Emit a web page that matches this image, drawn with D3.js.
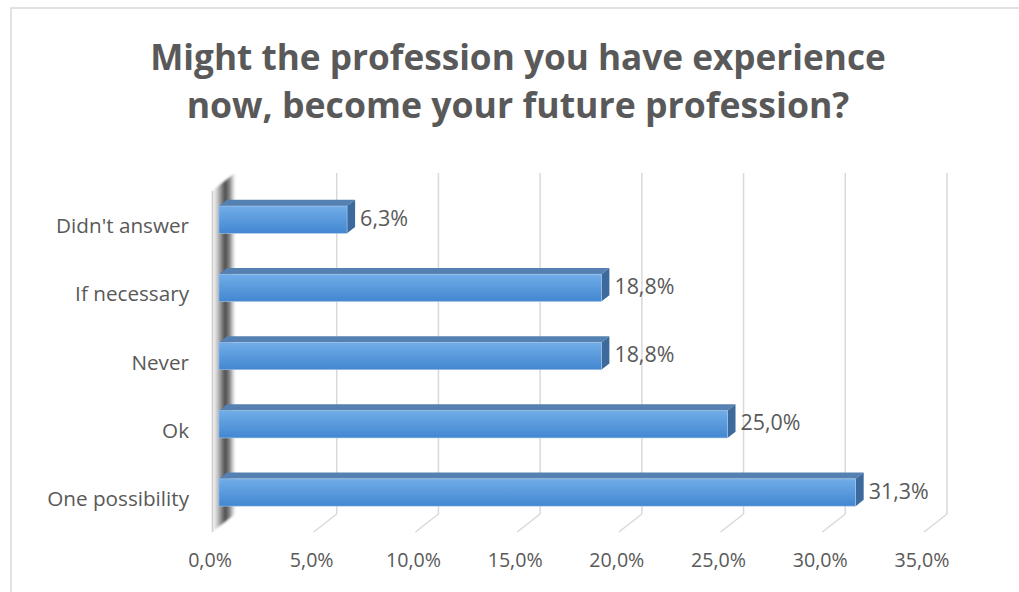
<!DOCTYPE html>
<html>
<head>
<meta charset="utf-8">
<script src="https://cdn.jsdelivr.net/npm/d3@7"></script>
<style>
  html, body { margin: 0; padding: 0; background: #ffffff; }
  svg { display: block; }
  text { font-family: "Open Sans", "Noto Sans", sans-serif; fill: #595959; }
</style>
</head>
<body>
<svg id="chart" width="1019" height="592"></svg>
<script>
// Survey answers (share of respondents, %)
const categories = ["Didn't answer", "If necessary", "Never", "Ok", "One possibility"];
const values = [6.3, 18.8, 18.8, 25.0, 31.3];
const valueLabels = ["6,3%", "18,8%", "18,8%", "25,0%", "31,3%"];
const ticks = [0, 5, 10, 15, 20, 25, 30, 35];
const tickLabels = ["0,0%", "5,0%", "10,0%", "15,0%", "20,0%", "25,0%", "30,0%", "35,0%"];
const titleLines = ["Might the profession you have experience", "now, become your future profession?"];

const svg = d3.select("#chart");
const defs = svg.append("defs");

// Back plane of the 3-D plot box and the depth vector towards the viewer
const back = { left: 235, right: 947, top: 173, bottom: 514 };
const depth = { dx: -23, dy: 18 };
const barFront = 0.7, barBack = 0.35;   // bar faces, as fractions of the depth

const x = d3.scaleLinear().domain([0, 35]).range([back.left, back.right]);
const y = d3.scaleBand().domain(categories).range([back.top, back.bottom])
  .paddingInner(0.6).paddingOuter(0.3);

// Fit a text element's font size to a given width
function fit(sel, width) {
  sel.each(function () {
    const w = this.getComputedTextLength();
    const fs = parseFloat(d3.select(this).attr("font-size"));
    d3.select(this).attr("font-size", fs * width / w);
  });
}

// Outer chart frame
svg.append("rect").attr("x", 11).attr("y", 8).attr("width", 1100).attr("height", 700)
  .attr("fill", "#ffffff").attr("stroke", "#d9d9d9").attr("stroke-width", 1.5);

// Title
const title = svg.append("g");
titleLines.forEach((line, i) => {
  const t = title.append("text").attr("x", 518).attr("y", 70 + i * 48)
    .attr("text-anchor", "middle").attr("font-weight", "bold").attr("font-size", 30)
    .text(line);
  fit(t, i === 0 ? 736 : 663);
});

// Gridlines on the back plane and their floor continuation
const grid = svg.append("g").attr("stroke", "#d9d9d9").attr("stroke-width", 1.5).attr("fill", "none");
grid.selectAll("line.back").data(ticks.filter(t => t > 0)).join("line")
  .attr("class", "back")
  .attr("x1", d => x(d)).attr("x2", d => x(d))
  .attr("y1", back.top).attr("y2", back.bottom);
grid.selectAll("line.floor").data(ticks.filter(t => t > 0)).join("line")
  .attr("class", "floor")
  .attr("x1", d => x(d)).attr("y1", back.bottom)
  .attr("x2", d => x(d) + depth.dx).attr("y2", back.bottom + depth.dy);

// Side wall (value axis at zero)
const wallGrad = defs.append("linearGradient").attr("id", "wall")
  .attr("x1", 0).attr("x2", 1).attr("y1", 0).attr("y2", 0);
[[0, "#f4f4f4"], [0.14, "#e4e4e4"], [0.32, "#a8a8a8"], [0.58, "#4a4a4a"], [0.8, "#949494"], [0.92, "#dcdcdc"], [1, "#f2f2f2"]]
  .forEach(([o, c]) => wallGrad.append("stop").attr("offset", o).attr("stop-color", c));
defs.append("filter").attr("id", "soft").append("feGaussianBlur").attr("stdDeviation", 0.8);
const x0 = x(0);
svg.append("path")
  .attr("d", `M${x0},${back.top} L${x0},${back.bottom} L${x0 + depth.dx},${back.bottom + depth.dy} L${x0 + depth.dx},${back.top + depth.dy} Z`)
  .attr("fill", "url(#wall)").attr("filter", "url(#soft)");
svg.append("line")
  .attr("x1", x0 + depth.dx + 0.5).attr("x2", x0 + depth.dx + 0.5)
  .attr("y1", back.top + depth.dy).attr("y2", back.bottom + depth.dy)
  .attr("stroke", "#d0d0d0").attr("stroke-width", 1.5);

// Bars: front face, top face and right side
const faceGrad = defs.append("linearGradient").attr("id", "face")
  .attr("x1", 0).attr("x2", 0).attr("y1", 0).attr("y2", 1);
faceGrad.append("stop").attr("offset", 0).attr("stop-color", "#71ade8");
faceGrad.append("stop").attr("offset", 1).attr("stop-color", "#4287d1");

const fx = depth.dx * barFront, fy = depth.dy * barFront;   // front face shift
const bx = depth.dx * barBack, by = depth.dy * barBack;     // back face shift
const ox = bx - fx, oy = by - fy;                           // front -> back

const bars = svg.append("g").selectAll("g").data(categories).join("g");
bars.each(function (c, i) {
  const g = d3.select(this);
  const xl = x(0) + fx, xr = x(values[i]) + fx;
  const yt = y(c) + fy, yb = y(c) + y.bandwidth() + fy;
  // top face
  g.append("path")
    .attr("d", `M${xl},${yt} L${xl + ox},${yt + oy} L${xr + ox},${yt + oy} L${xr},${yt} Z`)
    .attr("fill", "#5580b2");
  // right side
  g.append("path")
    .attr("d", `M${xr},${yt} L${xr + ox},${yt + oy} L${xr + ox},${yb + oy} L${xr},${yb} Z`)
    .attr("fill", "#3d6a9d");
  // front face
  g.append("rect").attr("x", xl).attr("y", yt).attr("width", xr - xl).attr("height", yb - yt)
    .attr("fill", "url(#face)").attr("stroke", "#a9c8ea").attr("stroke-width", 0.6);
  // value label
  const lbl = g.append("text").attr("x", xr + ox + 5).attr("y", (yt + yb) / 2 + 6)
    .attr("font-size", 17).text(valueLabels[i]);
  fit(lbl, valueLabels[i].length === 4 ? 48 : 60);
});

// Category labels along the front edge of the wall
const catG = svg.append("g");
categories.forEach((c, i) => {
  catG.append("text").attr("x", 189)
    .attr("y", y(c) - y.step() * 0.3 + y.step() / 2 + depth.dy + 8)
    .attr("text-anchor", "end").attr("font-size", 16).text(c);
});
fit(catG.select("text"), 133);
const catFs = catG.select("text").attr("font-size");
catG.selectAll("text").attr("font-size", catFs);

// Value axis labels along the front floor edge
const tickG = svg.append("g");
ticks.forEach((t, i) => {
  tickG.append("text").attr("x", x(t) + depth.dx - 2).attr("y", 567)
    .attr("text-anchor", "middle").attr("font-size", 16).text(tickLabels[i]);
});
fit(tickG.selectAll("text").filter((d, i) => i === 7), 55);
const tickFs = tickG.selectAll("text").filter((d, i) => i === 7).attr("font-size");
tickG.selectAll("text").attr("font-size", tickFs);
</script>
</body>
</html>
